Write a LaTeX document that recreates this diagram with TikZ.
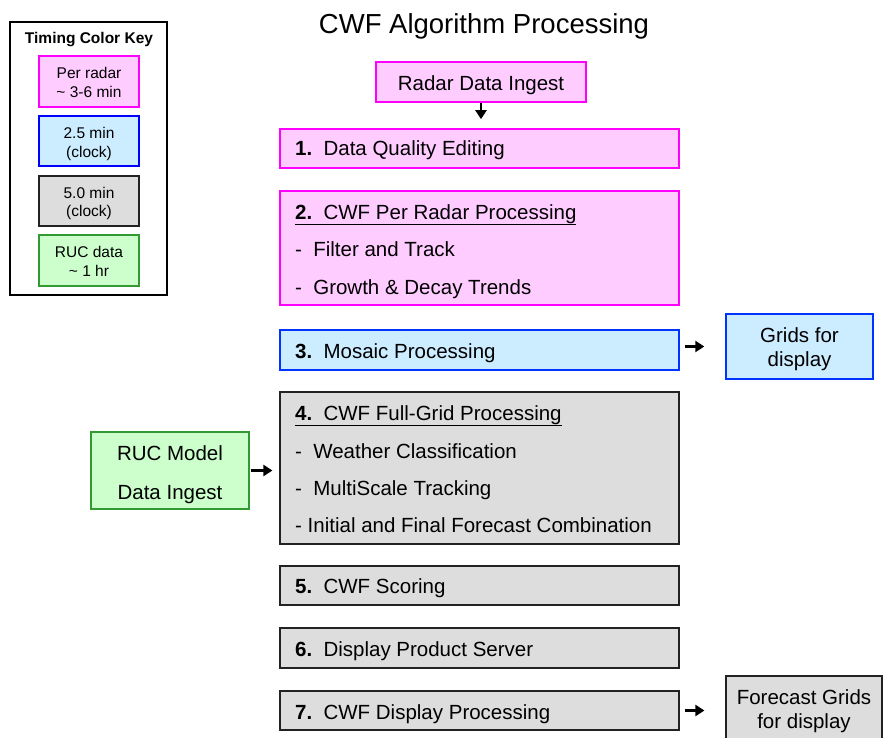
\documentclass[tikz,border=0pt]{standalone}
\usepackage{fontspec}
\setmainfont{Liberation Sans}
\usetikzlibrary{arrows.meta}
\definecolor{pinkfill}{HTML}{FFCCFF}
\definecolor{pinkdraw}{HTML}{FF00FF}
\definecolor{bluefill}{HTML}{CCECFF}
\definecolor{bluedraw}{HTML}{0033FF}
\definecolor{grayfill}{HTML}{DDDDDD}
\definecolor{graydraw}{HTML}{222222}
\definecolor{greenfill}{HTML}{CCFFCC}
\definecolor{greendraw}{HTML}{339933}
\begin{document}
\begin{tikzpicture}[x=1pt,y=-1pt,
  box/.style={rectangle, inner sep=0pt, minimum width=399pt},
  pinkbox/.style={box, draw=pinkdraw, fill=pinkfill, line width=1.6pt},
  bluebox/.style={box, draw=bluedraw, fill=bluefill, line width=1.4pt},
  graybox/.style={box, draw=graydraw, fill=grayfill, line width=1.2pt},
  greenbox/.style={box, draw=greendraw, fill=greenfill, line width=1.4pt},
  txt/.style={inner sep=0pt, anchor=base west, font=\fontsize{20.5}{24}\selectfont},
  ctxt/.style={inner sep=0pt, anchor=base, font=\fontsize{20.5}{24}\selectfont},
  ktxt/.style={inner sep=0pt, anchor=base, font=\fontsize{15.5}{18}\selectfont},
  arr/.style={-{Triangle[length=9pt,width=11pt]}, line width=2.6pt, black}
]
\clip (0,0) rectangle (883,738);
\fill[white] (0,0) rectangle (883,738);

% title
\node[inner sep=0pt, anchor=base, font=\fontsize{27.5}{32}\selectfont] (title) at (484,34) {CWF Algorithm Processing};

% key
\node[rectangle, draw=black, line width=1.6pt, fill=white, minimum width=157pt, minimum height=273pt] (key) at (88.5,158.5) {};
\node[ktxt, font=\fontsize{15.5}{18}\selectfont\bfseries] (keyt) at (89,44) {Timing Color Key};
\node[pinkbox, minimum width=100pt, minimum height=51pt] (k1) at (89,81.5) {};
\node[bluebox, draw=blue, minimum width=100pt, minimum height=50pt] (k2) at (89,141) {};
\node[graybox, line width=1.4pt, minimum width=100pt, minimum height=50pt] (k3) at (89,201) {};
\node[greenbox, minimum width=100pt, minimum height=51pt] (k4) at (89,260.5) {};
\node[ktxt] (k1a) at (89,79) {Per radar};
\node[ktxt] (k1b) at (89,97.5) {\char`\~{} 3-6 min};
\node[ktxt] (k2a) at (89,139) {2.5 min};
\node[ktxt] (k2b) at (89,157.5) {(clock)};
\node[ktxt] (k3a) at (89,198.5) {5.0 min};
\node[ktxt] (k3b) at (89,217) {(clock)};
\node[ktxt] (k4a) at (89,257.5) {RUC data};
\node[ktxt] (k4b) at (89,276) {\char`\~{} 1 hr};

% radar ingest
\node[pinkbox, minimum width=210pt, minimum height=40pt] (radar) at (481,82) {};
\node[ctxt] (radart) at (481,91) {Radar Data Ingest};

% 1
\node[pinkbox, minimum height=39pt] (b1) at (479.5,148.5) {};
\node[txt] (b1t) at (295,156) {\textbf{1.}\hspace{0.55em}Data Quality Editing};

% 2
\node[pinkbox, minimum height=114pt] (b2) at (479.5,248) {};
\node[txt] (b2t) at (295,219) {\underline{\textbf{2.}\hspace{0.55em}CWF Per Radar Processing}};
\node[txt] (b2a) at (295,256) {-\hspace{0.55em}Filter and Track};
\node[txt] (b2b) at (295,294) {-\hspace{0.55em}Growth \& Decay Trends};

% 3
\node[bluebox, minimum height=40pt] (b3) at (479.5,350) {};
\node[txt] (b3t) at (295,358) {\textbf{3.}\hspace{0.55em}Mosaic Processing};
\node[bluebox, minimum width=147pt, minimum height=65pt] (grids) at (799.5,346.5) {};
\node[ctxt] (gridsa) at (799.5,342) {Grids for};
\node[ctxt] (gridsb) at (799.5,366) {display};

% 4
\node[graybox, minimum height=152pt] (b4) at (479.5,468) {};
\node[txt] (b4t) at (295,420) {\underline{\textbf{4.}\hspace{0.55em}CWF Full-Grid Processing}};
\node[txt] (b4a) at (295,458) {-\hspace{0.55em}Weather Classification};
\node[txt] (b4b) at (295,495) {-\hspace{0.55em}MultiScale Tracking};
\node[txt] (b4c) at (295,532) {- Initial and Final Forecast Combination};

% RUC
\node[greenbox, minimum width=158pt, minimum height=77pt] (ruc) at (170,470.5) {};
\node[ctxt] (ruca) at (170,460) {RUC Model};
\node[ctxt] (rucb) at (170,499) {Data Ingest};

% 5,6,7
\node[graybox, minimum height=39pt] (b5) at (479.5,585.5) {};
\node[txt] (b5t) at (295,593) {\textbf{5.}\hspace{0.55em}CWF Scoring};
\node[graybox, minimum height=40pt] (b6) at (479.5,648) {};
\node[txt] (b6t) at (295,656) {\textbf{6.}\hspace{0.55em}Display Product Server};
\node[graybox, minimum height=39pt] (b7) at (479.5,710.5) {};
\node[txt] (b7t) at (295,719) {\textbf{7.}\hspace{0.55em}CWF Display Processing};
\node[graybox, minimum width=156pt, minimum height=70pt] (fgrids) at (804,711) {};
\node[ctxt] (fgridsa) at (804,704) {Forecast Grids};
\node[ctxt] (fgridsb) at (804,728) {for display};

% arrows
\draw[arr, shorten >=9pt] (radar.south) -- (radar.south |- b1.north);
\draw[arr, shorten <=5pt, shorten >=21pt] (b3.east |- grids.west) -- (grids.west);
\draw[arr, shorten <=1pt, shorten >=7pt] (ruc.east) -- (ruc.east -| b4.west);
\draw[arr, shorten <=5pt, shorten >=21pt] (b7.east) -- (b7.east -| fgrids.west);
\end{tikzpicture}
\end{document}
